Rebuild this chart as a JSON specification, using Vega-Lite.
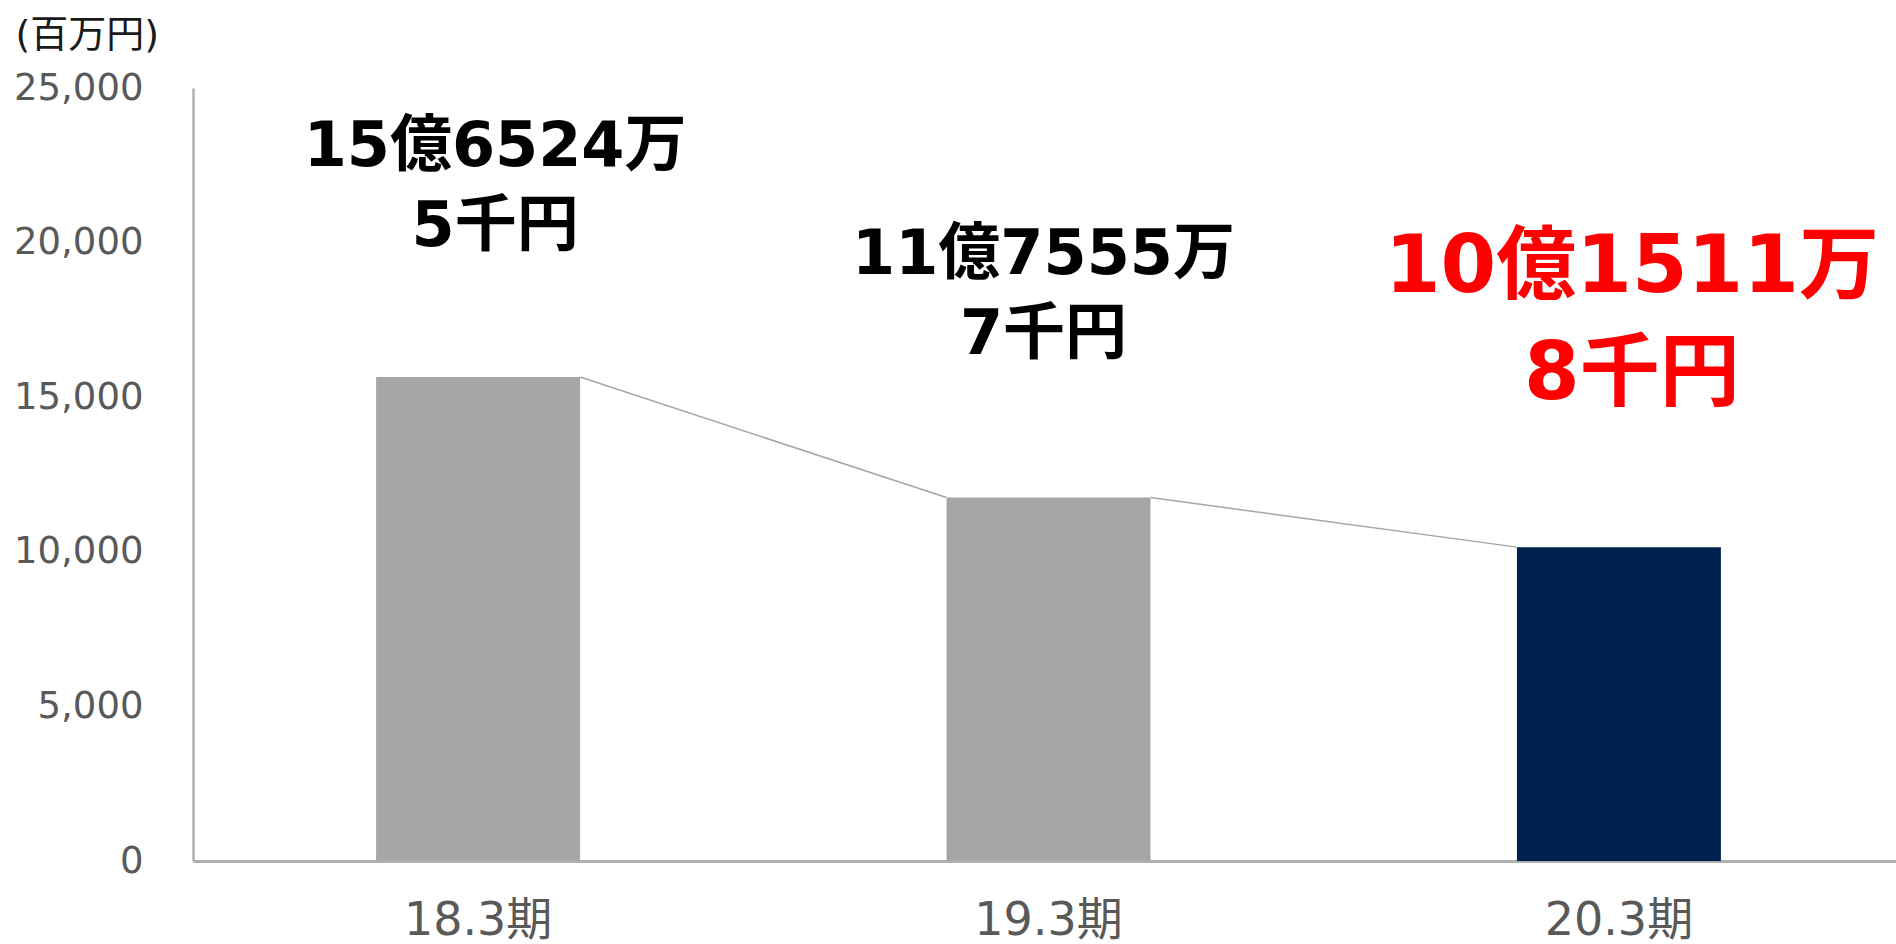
{
  "$schema": "https://vega.github.io/schema/vega-lite/v6.json",
  "autosize": {"type": "none"},
  "width": 1711,
  "height": 773,
  "padding": {"left": 193, "top": 88, "right": 0, "bottom": 83},
  "background": "white",
  "config": {
    "view": {"stroke": null},
    "font": "DejaVu Sans, Noto Sans CJK JP"
  },
  "datasets": {
    "bars": [
      {"period": "18.3期", "value": 15652, "label": "15億6524万\n5千円"},
      {"period": "19.3期", "value": 11756, "label": "11億7555万\n7千円"},
      {"period": "20.3期", "value": 10151, "label": "10億1511万\n8千円"}
    ],
    "links": [
      {"from": "18.3期", "to": "19.3期", "v1": 15652, "v2": 11756},
      {"from": "19.3期", "to": "20.3期", "v1": 11756, "v2": 10151}
    ]
  },
  "layer": [
    {
      "data": {"name": "bars"},
      "mark": {"type": "bar"},
      "encoding": {
        "x": {
          "field": "period", "type": "nominal", "sort": null,
          "scale": {"domain": ["18.3期", "19.3期", "20.3期"], "paddingInner": 0.6424, "paddingOuter": 0.321},
          "axis": {
            "title": null, "labelAngle": 0, "ticks": false, "labelPadding": 37,
            "labelFontSize": 46, "labelColor": "#595959", "labelFont": "DejaVu Sans, Noto Sans CJK JP",
            "domainColor": "#b0b0b0", "domainWidth": 3, "grid": false
          }
        },
        "y": {
          "field": "value", "type": "quantitative",
          "scale": {"domain": [0, 25000], "nice": false},
          "axis": {
            "title": "(百万円)", "titleAngle": 0, "titleAlign": "left", "titleBaseline": "middle",
            "titleX": -178, "titleY": -53, "titleFontSize": 38, "titleFontWeight": "normal",
            "titleColor": "#1a1a1a", "titleFont": "DejaVu Sans, Noto Sans CJK JP",
            "values": [0, 5000, 10000, 15000, 20000, 25000], "format": ",.0f",
            "ticks": false, "labelPadding": 50, "labelFontSize": 37, "labelColor": "#595959",
            "domainColor": "#b0b0b0", "domainWidth": 2.5, "grid": false
          }
        },
        "color": {
          "field": "period", "type": "nominal",
          "scale": {"domain": ["18.3期", "19.3期", "20.3期"], "range": ["#a6a6a6", "#a6a6a6", "#00204e"]},
          "legend": null
        }
      }
    },
    {
      "data": {"name": "links"},
      "mark": {"type": "rule", "color": "#a6a6a6", "strokeWidth": 1.5},
      "encoding": {
        "x": {"field": "from", "type": "nominal", "bandPosition": 1},
        "x2": {"field": "to", "bandPosition": 0},
        "y": {"field": "v1", "type": "quantitative"},
        "y2": {"field": "v2"}
      }
    },
    {
      "data": {"name": "bars"},
      "transform": [{"filter": "datum.period == '18.3期'"}],
      "mark": {"type": "text", "baseline": "bottom", "align": "center", "lineBreak": "\n", "lineHeight": 80, "fontSize": 62, "fontWeight": "bold", "font": "DejaVu Sans, Noto Sans CJK JP", "color": "#000000", "dy": -198, "dx": 17},
      "encoding": {
        "x": {"field": "period", "type": "nominal"},
        "y": {"field": "value", "type": "quantitative"},
        "text": {"field": "label"}
      }
    },
    {
      "data": {"name": "bars"},
      "transform": [{"filter": "datum.period == '19.3期'"}],
      "mark": {"type": "text", "baseline": "bottom", "align": "center", "lineBreak": "\n", "lineHeight": 80, "fontSize": 62, "fontWeight": "bold", "font": "DejaVu Sans, Noto Sans CJK JP", "color": "#000000", "dy": -211, "dx": -5},
      "encoding": {
        "x": {"field": "period", "type": "nominal"},
        "y": {"field": "value", "type": "quantitative"},
        "text": {"field": "label"}
      }
    },
    {
      "data": {"name": "bars"},
      "transform": [{"filter": "datum.period == '20.3期'"}],
      "mark": {"type": "text", "baseline": "bottom", "align": "center", "lineBreak": "\n", "lineHeight": 107, "fontSize": 80, "fontWeight": "bold", "font": "DejaVu Sans, Noto Sans CJK JP", "color": "#ff0000", "dy": -238, "dx": 13},
      "encoding": {
        "x": {"field": "period", "type": "nominal"},
        "y": {"field": "value", "type": "quantitative"},
        "text": {"field": "label"}
      }
    }
  ]
}
